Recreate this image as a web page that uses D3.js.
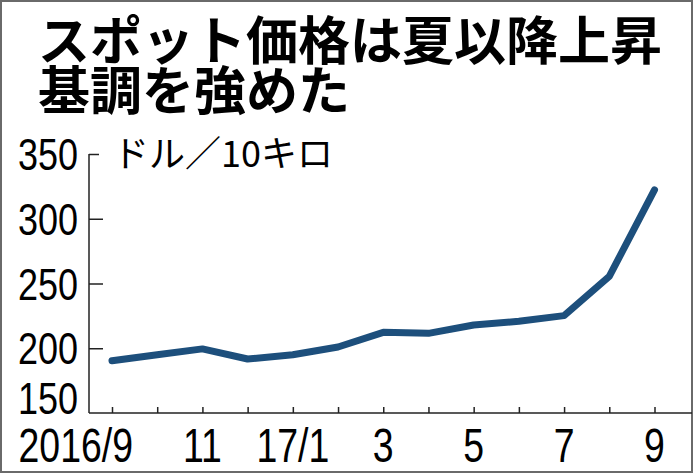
<!DOCTYPE html>
<html>
<head>
<meta charset="utf-8">
<script src="https://cdn.jsdelivr.net/npm/d3@7"></script>
<style>
  html, body { margin: 0; padding: 0; background: #fff; }
  svg { display: block; }
</style>
</head>
<body>
<svg id="chart" width="696" height="474"></svg>
<script>
// ---- data ----
const titleLines = ["スポット価格は夏以降上昇", "基調を強めた"];
const unitLabel = "ドル／10キロ";
const months = ["2016/9", "10", "11", "12", "17/1", "2", "3", "4", "5", "6", "7", "8", "9"];
const xTickLabels = ["2016/9", "", "11", "", "17/1", "", "3", "", "5", "", "7", "", "9"];
const prices = [190.4, 195, 199.5, 191.7, 195, 201, 212.3, 211.5, 218, 220.8, 225.2, 255.5, 322.3];
const yTicks = [150, 200, 250, 300, 350];

// ---- layout ----
const svg = d3.select("#chart");
const axisX = 89, baseY = 413, topY = 154;
const numFont = "'Liberation Sans', Arial, sans-serif";
const jpFont = "'Noto Sans CJK JP', 'Noto Sans', sans-serif";

const x = d3.scaleLinear().domain([0, months.length - 1]).range([112, 654.5]);
const y = d3.scaleLinear().domain([150, 350]).range([baseY, topY]);

// frame
svg.append("rect").attr("x", 1).attr("y", 1).attr("width", 691).attr("height", 471)
  .attr("fill", "#fff").attr("stroke", "#6a6a6a").attr("stroke-width", 2);

// title
svg.append("g").selectAll("text").data(titleLines).join("text")
  .attr("x", 38).attr("y", (d, i) => 60 + i * 50)
  .attr("font-family", jpFont).attr("font-weight", 700).attr("font-size", 52)
  .attr("fill", "#000").text(d => d);

// y axis
const yAxis = d3.axisRight(y).tickValues(yTicks).tickSize(14).tickFormat("");
const gy = svg.append("g").attr("transform", `translate(${axisX},0)`).call(yAxis);
gy.select(".domain").attr("d", `M0,${topY}V${baseY}`).attr("stroke", "#222").attr("stroke-width", 1.5);
gy.selectAll(".tick line").attr("stroke", "#222").attr("stroke-width", 1.5)
  .attr("x2", d => d === 350 ? 10 : 14);
gy.selectAll(".tick").filter(d => d === 150).select("line").remove();

// y labels
svg.append("g").selectAll("text").data(yTicks).join("text")
  .attr("transform", d => `translate(78,${d === 150 ? baseY + 1 : y(d) + 16}) scale(0.8,1)`)
  .attr("text-anchor", "end").attr("font-family", numFont).attr("font-size", 45)
  .attr("fill", "#000").text(d => d);

// unit label
svg.append("text").attr("x", 113).attr("y", 167)
  .attr("font-family", jpFont).attr("font-size", 36).attr("fill", "#000").text(unitLabel);

// x axis
const xAxis = d3.axisTop(x).tickValues(d3.range(months.length)).tickSize(6).tickFormat("");
const gx = svg.append("g").attr("transform", `translate(0,${baseY})`).call(xAxis);
gx.select(".domain").attr("d", `M${axisX},0H692`).attr("stroke", "#222").attr("stroke-width", 1.5);
gx.selectAll(".tick line").attr("stroke", "#222").attr("stroke-width", 1.5);

// x labels
svg.append("g").selectAll("text").data(xTickLabels.map((t, i) => ({t, i})).filter(d => d.t))
  .join("text")
  .attr("transform", d => `translate(${d.i === 0 ? x(d.i) + 21 : x(d.i)},462) scale(0.78,1)`)
  .attr("text-anchor", d => d.i === 0 ? "end" : "middle")
  .attr("font-family", numFont).attr("font-size", 48).attr("fill", "#000").text(d => d.t);

// line
const line = d3.line().x((d, i) => x(i)).y(d => y(d));
svg.append("path").datum(prices).attr("d", line)
  .attr("fill", "none").attr("stroke", "#1d4f7c").attr("stroke-width", 7)
  .attr("stroke-linejoin", "round").attr("stroke-linecap", "round");
</script>
</body>
</html>
